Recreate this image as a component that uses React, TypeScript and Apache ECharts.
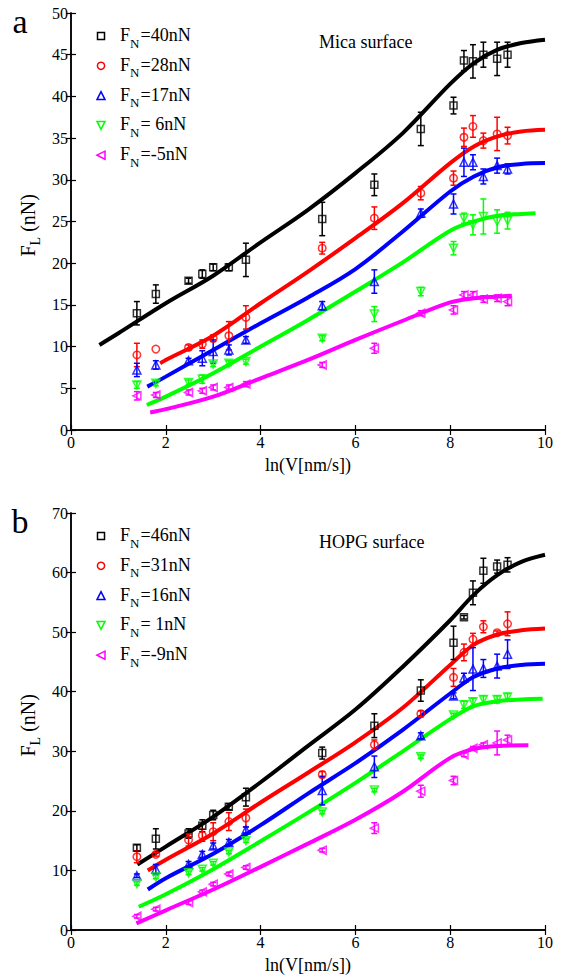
import React, { useEffect, useRef } from 'react';
import * as echarts from 'echarts';

const FONT = 'Liberation Serif';

// ln(V[nm/s]) positions of the measurements (shared by all series)
const lnV = [1.39, 1.79, 2.48, 2.77, 3.0, 3.33, 3.69, 5.3, 6.4, 7.38, 8.07, 8.29, 8.48, 8.7, 8.99, 9.21];

// ---- Panel a : Mica surface ----
const micaFN40 = [14.0, 16.3, 17.9, 18.7, 19.5, 19.5, 20.4, 25.3, 29.4, 36.1, 38.9, 44.3, 44.2, 45.0, 44.5, 45.0];
const micaFN40Err = [1.4, 1.1, 0.3, 0.5, 0.4, 0.4, 2.0, 2.0, 1.3, 2.0, 1.0, 1.2, 2.0, 1.5, 2.0, 1.5];
const micaFN28 = [9.0, 9.7, 9.9, 10.3, 11.0, 11.3, 13.5, 21.8, 25.4, 28.4, 30.2, 35.1, 36.4, 34.7, 35.5, 35.3];
const micaFN28Err = [1.4, 0, 0.3, 0.5, 0.4, 1.7, 1.4, 0.7, 1.35, 0.8, 0.85, 1.1, 1.3, 0.9, 2.0, 1.0];
const micaFN17 = [7.2, 7.8, 8.3, 8.6, 9.4, 9.6, 10.8, 14.9, 17.8, 26.0, 27.1, 32.1, 32.1, 30.4, 31.7, 31.3];
const micaFN17Err = [0.8, 0.5, 0.3, 0.9, 1.4, 0.6, 0.4, 0.5, 1.4, 0.5, 1.2, 1.7, 0.9, 0.9, 0.9, 0.6];
const micaFN6 = [5.4, 5.6, 5.7, 6.1, 7.9, 8.0, 8.2, 11.0, 13.9, 16.6, 21.8, 25.4, 24.6, 25.6, 25.0, 25.1];
const micaFN6Err = [0.4, 0.3, 0.3, 0.5, 0.3, 0.3, 0.3, 0.3, 0.9, 0.5, 0.8, 0.6, 1.2, 2.1, 1.4, 1.0];
const micaFNm5 = [4.1, 4.2, 4.5, 4.7, 5.1, 5.1, 5.5, 7.8, 9.8, 14.0, 14.4, 16.2, 16.2, 15.7, 15.8, 15.4];
const micaFNm5Err = [0.5, 0.3, 0.3, 0.3, 0.3, 0.3, 0.3, 0.3, 0.6, 0.3, 0.5, 0.4, 0.4, 0.4, 0.4, 0.5];

const micaFit40X = [0.6, 1, 2, 3, 4, 5, 6, 7, 8, 8.5, 9, 9.5, 10];
const micaFit40Y = [10.2, 11.6, 15.2, 18.5, 22.5, 26.4, 30.8, 35.6, 41.5, 44.0, 45.6, 46.4, 46.8];
const micaFit28X = [1.88, 2, 3, 4, 5, 6, 7, 8, 8.5, 9, 9.5, 10];
const micaFit28Y = [8.0, 8.4, 11.3, 15.2, 19.0, 23.0, 27.2, 32.0, 34.0, 35.2, 35.8, 36.0];
const micaFit17X = [1.61, 2, 3, 4, 5, 6, 7, 8, 8.5, 9, 9.5, 10];
const micaFit17Y = [5.2, 6.4, 9.6, 12.8, 15.9, 19.3, 23.8, 28.6, 30.4, 31.5, 31.9, 32.0];
const micaFit6X = [1.6, 2, 3, 4, 5, 6, 7, 8, 8.5, 9, 9.5, 9.8];
const micaFit6Y = [3.0, 4.0, 6.8, 10.0, 13.2, 16.6, 20.1, 23.9, 25.0, 25.7, 25.9, 26.0];
const micaFitm5X = [1.67, 2, 3, 4, 5, 6, 7, 8, 8.5, 9, 9.3];
const micaFitm5Y = [2.1, 2.5, 4.0, 6.2, 8.4, 10.8, 13.1, 15.3, 15.8, 16.0, 16.1];

// ---- Panel b : HOPG surface ----
const hopgFN46 = [13.8, 15.3, 16.2, 17.5, 19.3, 20.7, 22.3, 29.7, 34.3, 40.2, 48.2, 52.5, 56.6, 60.3, 61.0, 61.3];
const hopgFN46Err = [0.5, 1.7, 0.8, 1.0, 0.8, 0.5, 1.5, 1.0, 2.0, 1.8, 2.8, 0.3, 2.0, 2.1, 1.1, 1.2];
const hopgFN31 = [12.3, 12.7, 15.1, 15.9, 16.5, 18.2, 18.8, 26.1, 31.1, 36.3, 42.4, 46.6, 48.8, 50.9, 49.9, 51.4];
const hopgFN31Err = [1.0, 0.3, 1.0, 1.0, 1.5, 1.5, 1.5, 0.5, 0.8, 0.5, 1.5, 1.4, 1.0, 1.0, 0.3, 2.0];
const hopgFN16 = [9.1, 10.2, 11.0, 12.7, 14.1, 14.7, 16.8, 23.4, 27.4, 32.6, 39.3, 42.3, 43.8, 43.9, 44.3, 46.3];
const hopgFN16Err = [0.3, 0.8, 0.5, 0.5, 0.5, 0.5, 0.5, 2.4, 1.8, 0.5, 0.5, 0.8, 3.6, 1.5, 2.0, 2.4];
const hopgFN1 = [7.8, 8.9, 9.6, 10.2, 11.2, 13.1, 15.0, 19.8, 23.5, 29.1, 36.1, 37.8, 38.3, 38.7, 38.7, 39.1];
const hopgFN1Err = [0.3, 0.3, 0.3, 0.3, 0.3, 0.3, 0.3, 0.3, 0.3, 0.3, 0.3, 0.6, 0.6, 0.6, 0.6, 0.6];
const hopgFNm9 = [2.3, 3.5, 4.6, 6.4, 7.7, 9.4, 10.5, 13.4, 17.1, 23.3, 25.1, 29.4, 30.5, 31.1, 31.4, 31.9];
const hopgFNm9Err = [0.3, 0.3, 0.3, 0.3, 0.3, 0.3, 0.3, 0.3, 0.9, 1.0, 0.7, 0.3, 0.3, 0.3, 2.0, 0.8];

const hopgFit46X = [1.4, 2, 3, 4, 5, 6, 7, 8, 8.5, 9, 9.5, 10];
const hopgFit46Y = [11.0, 14.0, 19.0, 24.8, 30.9, 37.0, 44.2, 52.0, 56.3, 59.6, 61.8, 63.0];
const hopgFit31X = [1.62, 2, 3, 4, 5, 6, 7, 8, 8.5, 9, 9.5, 10];
const hopgFit31Y = [10.0, 11.8, 16.2, 21.4, 26.4, 31.5, 37.3, 44.5, 47.9, 49.6, 50.3, 50.6];
const hopgFit16X = [1.62, 2, 3, 4, 5, 6, 7, 8, 8.5, 9, 9.5, 10];
const hopgFit16Y = [6.8, 8.7, 12.8, 17.6, 22.9, 28.0, 33.6, 39.7, 42.5, 43.9, 44.5, 44.7];
const hopgFit1X = [1.43, 2, 3, 4, 5, 6, 7, 8, 8.5, 9, 9.5, 9.95];
const hopgFit1Y = [3.9, 6.0, 10.2, 14.9, 19.7, 24.7, 30.0, 35.4, 37.6, 38.4, 38.7, 38.8];
const hopgFitm9X = [1.38, 2, 3, 4, 5, 6, 7, 8, 8.5, 9, 9.65];
const hopgFitm9Y = [1.1, 3.3, 6.8, 10.6, 14.5, 18.5, 23.2, 28.9, 30.4, 30.9, 31.0];

const xTicks = [0, 2, 4, 6, 8, 10];

const micaLabels = ['=40nN', '=28nN', '=17nN', '= 6nN', '=-5nN'];
const hopgLabels = ['=46nN', '=31nN', '=16nN', '= 1nN', '=-9nN'];

const COLORS = ['#000000', '#ff0000', '#0000ff', '#00ff00', '#ff00ff'];
const SYMBOLS = [
  { symbol: 'rect', rotate: 0, size: 7 },
  { symbol: 'circle', rotate: 0, size: 7.5 },
  { symbol: 'triangle', rotate: 0, size: 8 },
  { symbol: 'triangle', rotate: 180, size: 8 },
  { symbol: 'triangle', rotate: 90, size: 8 },
];

const panels = [
  {
    top: 13, height: 417, yMax: 50, yInterval: 5, surface: 'Mica surface', letter: 'a', labels: micaLabels,
    sets: [
      { y: micaFN40, e: micaFN40Err, fx: micaFit40X, fy: micaFit40Y },
      { y: micaFN28, e: micaFN28Err, fx: micaFit28X, fy: micaFit28Y },
      { y: micaFN17, e: micaFN17Err, fx: micaFit17X, fy: micaFit17Y },
      { y: micaFN6, e: micaFN6Err, fx: micaFit6X, fy: micaFit6Y },
      { y: micaFNm5, e: micaFNm5Err, fx: micaFitm5X, fy: micaFitm5Y },
    ],
  },
  {
    top: 513, height: 417, yMax: 70, yInterval: 10, surface: 'HOPG surface', letter: 'b', labels: hopgLabels,
    sets: [
      { y: hopgFN46, e: hopgFN46Err, fx: hopgFit46X, fy: hopgFit46Y },
      { y: hopgFN31, e: hopgFN31Err, fx: hopgFit31X, fy: hopgFit31Y },
      { y: hopgFN16, e: hopgFN16Err, fx: hopgFit16X, fy: hopgFit16Y },
      { y: hopgFN1, e: hopgFN1Err, fx: hopgFit1X, fy: hopgFit1Y },
      { y: hopgFNm9, e: hopgFNm9Err, fx: hopgFitm9X, fy: hopgFitm9Y },
    ],
  },
];

const LEFT = 71;
const WIDTH = 474;

function makeErrRender(color: string) {
  return (params: any, api: any) => {
    const x = api.value(0);
    const y = api.value(1);
    const e = api.value(2);
    if (!e) return { type: 'group', children: [] };
    const t = api.coord([x, y + e]);
    const b = api.coord([x, y - e]);
    const hw = 3;
    const st = { stroke: color, lineWidth: 1.5 };
    return {
      type: 'group',
      children: [
        { type: 'line', shape: { x1: t[0], y1: t[1], x2: b[0], y2: b[1] }, style: st },
        { type: 'line', shape: { x1: t[0] - hw, y1: t[1], x2: t[0] + hw, y2: t[1] }, style: st },
        { type: 'line', shape: { x1: b[0] - hw, y1: b[1], x2: b[0] + hw, y2: b[1] }, style: st },
      ],
    };
  };
}

function legendMarker(i: number, cx: number, cy: number) {
  const st = { fill: 'none', stroke: COLORS[i], lineWidth: 1.5 };
  if (i === 0) return { type: 'rect', shape: { x: cx - 3.5, y: cy - 3.5, width: 7, height: 7 }, style: st };
  if (i === 1) return { type: 'circle', shape: { cx, cy, r: 3.6 }, style: st };
  if (i === 2) return { type: 'polygon', shape: { points: [[cx, cy - 4], [cx + 4, cy + 4], [cx - 4, cy + 4]] }, style: st };
  if (i === 3) return { type: 'polygon', shape: { points: [[cx, cy + 4], [cx + 4, cy - 4], [cx - 4, cy - 4]] }, style: st };
  return { type: 'polygon', shape: { points: [[cx - 4, cy], [cx + 4, cy - 4], [cx + 4, cy + 4]] }, style: st };
}

function txt(x: number, y: number, text: string, size: number, align = 'left') {
  return {
    type: 'text', x, y,
    style: { text, fontFamily: FONT, fontSize: size, fill: '#000', align, verticalAlign: 'middle' },
  };
}

function buildOption() {
  const grid: any[] = [];
  const xAxis: any[] = [];
  const yAxis: any[] = [];
  const series: any[] = [];
  const graphic: any[] = [];

  panels.forEach((p, pi) => {
    grid.push({ left: LEFT, top: p.top, width: WIDTH, height: p.height });
    const axisLine = { show: true, lineStyle: { color: '#000', width: 1.5 } };
    const tick = { show: true, inside: true, length: 5, lineStyle: { color: '#000', width: 1.2 } };
    const lbl = { color: '#000', fontFamily: FONT, fontSize: 16 };
    xAxis.push({
      gridIndex: pi, type: 'value', min: xTicks[0], max: xTicks[xTicks.length - 1], interval: 2,
      axisLine, axisTick: tick, splitLine: { show: false },
      axisLabel: { ...lbl, margin: 4 },
      name: 'ln(V[nm/s])', nameLocation: 'middle', nameGap: 26,
      nameTextStyle: { color: '#000', fontFamily: FONT, fontSize: 18 },
    });
    xAxis.push({
      gridIndex: pi, type: 'value', position: 'top', min: xTicks[0], max: xTicks[xTicks.length - 1], interval: 2,
      axisLine, axisTick: tick, splitLine: { show: false }, axisLabel: { show: false },
    });
    yAxis.push({
      gridIndex: pi, type: 'value', min: 0, max: p.yMax, interval: p.yInterval,
      axisLine, axisTick: tick, splitLine: { show: false },
      axisLabel: { ...lbl, margin: 3 },
    });
    yAxis.push({
      gridIndex: pi, type: 'value', position: 'right', min: 0, max: p.yMax, interval: p.yInterval,
      axisLine, axisTick: tick, splitLine: { show: false }, axisLabel: { show: false },
    });
    const ax = pi * 2;

    p.sets.forEach((s, i) => {
      series.push({
        type: 'line', xAxisIndex: ax, yAxisIndex: ax,
        data: s.fx.map((x, k) => [x, s.fy[k]]),
        symbol: 'none', showSymbol: false, smooth: 0.35,
        lineStyle: { color: COLORS[i], width: 4 }, z: 2, silent: true,
      });
    });
    p.sets.forEach((s, i) => {
      series.push({
        type: 'custom', xAxisIndex: ax, yAxisIndex: ax,
        data: lnV.map((x, k) => [x, s.y[k], s.e[k]]),
        encode: { x: 0, y: 1 },
        renderItem: makeErrRender(COLORS[i]), z: 3, silent: true,
      });
      series.push({
        type: 'scatter', xAxisIndex: ax, yAxisIndex: ax,
        data: lnV.map((x, k) => [x, s.y[k]]),
        symbol: SYMBOLS[i].symbol, symbolSize: SYMBOLS[i].size, symbolRotate: SYMBOLS[i].rotate,
        itemStyle: { color: 'rgba(0,0,0,0)', borderColor: COLORS[i], borderWidth: 1.5 },
        z: 4, silent: true,
      });
    });

    // legend
    p.labels.forEach((l, i) => {
      const cy = p.top + 23 + i * 29.8;
      graphic.push(legendMarker(i, 101, cy));
      graphic.push(txt(120, cy - 1, 'F', 18));
      graphic.push(txt(130, cy + 7, 'N', 13));
      graphic.push(txt(140.5, cy - 1, l, 18));
    });
    graphic.push(txt(319, p.top + 29, p.surface, 18));
    graphic.push(txt(20, p.top + 8, p.letter, 34, 'center'));
    // y axis title, rotated
    graphic.push({
      type: 'group', x: 28, y: p.top + p.height / 2 + 4, rotation: Math.PI / 2,
      children: [
        txt(-31, 0, 'F', 20),
        txt(-19.9, 7, 'L', 14),
        txt(-11.3, 0, ' (nN)', 20),
      ],
    });
  });

  return { animation: false, backgroundColor: '#ffffff', grid, xAxis, yAxis, series, graphic };
}

export default function App() {
  const ref = useRef<HTMLDivElement>(null);
  useEffect(() => {
    if (!ref.current) return;
    const chart = echarts.init(ref.current, undefined, { renderer: 'svg' });
    chart.setOption(buildOption() as any);
    return () => chart.dispose();
  }, []);
  return (
    <div
      ref={ref}
      style={{ position: 'absolute', left: 0, top: 0, width: 562, height: 980, background: '#fff' }}
    />
  );
}
